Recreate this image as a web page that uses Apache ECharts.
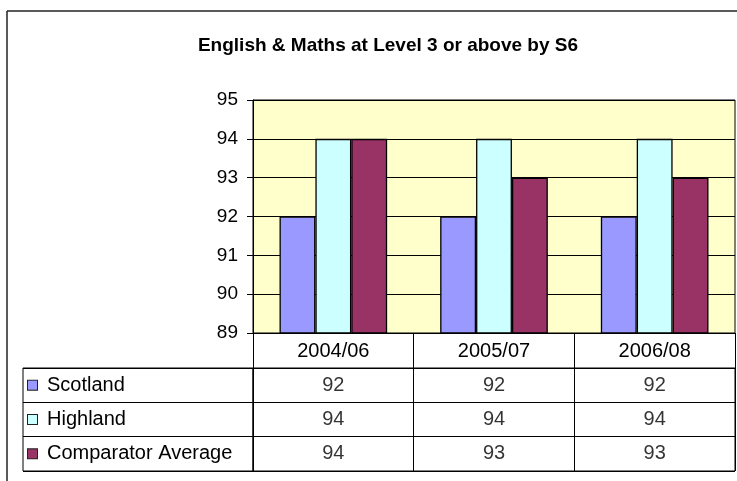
<!DOCTYPE html>
<html>
<head>
<meta charset="utf-8">
<title>English & Maths at Level 3 or above by S6</title>
<script src="https://cdn.jsdelivr.net/npm/echarts@6/dist/echarts.min.js"></script>
<style>
  html, body { margin: 0; padding: 0; background: #fff; }
  #chart { width: 737px; height: 481px; }
</style>
</head>
<body>
<div id="chart"></div>
<script>
// data
const categories = ['2004/06', '2005/07', '2006/08']
const scotland = [92, 92, 92]
const highland = [94, 94, 94]
const comparator = [94, 93, 93]
const yTicks = [89, 90, 91, 92, 93, 94, 95]

const rows = [
  { name: 'Scotland', values: scotland, color: '#9999FF' },
  { name: 'Highland', values: highland, color: '#CCFFFF' },
  { name: 'Comparator Average', values: comparator, color: '#993366' }
]

const font = '"Liberation Sans", Arial, sans-serif'
const black = '#000'

const chart = echarts.init(document.getElementById('chart'), null, { renderer: 'canvas' })

function barSeries(row) {
  return {
    name: row.name,
    type: 'bar',
    data: row.values,
    barGap: '0%',
    barCategoryGap: '33%',
    itemStyle: { color: row.color, borderColor: black, borderWidth: 1.3 },
    emphasis: { disabled: true }
  }
}

function cellSeries(row) {
  return {
    type: 'scatter',
    xAxisIndex: 1,
    yAxisIndex: 1,
    symbolSize: 1,
    itemStyle: { color: 'rgba(0,0,0,0)' },
    data: row.values.map((v, i) => [categories[i], row.name, v]),
    label: {
      show: true,
      position: 'inside',
      formatter: p => String(p.value[2]),
      color: black,
      fontSize: 20,
      fontFamily: font
    },
    silent: true
  }
}

const boxRich = {}
rows.forEach((row, i) => {
  boxRich['b' + i] = { width: 9, height: 9, backgroundColor: row.color, borderColor: '#222', borderWidth: 1 }
})
boxRich.t = { fontSize: 20, fontFamily: font, color: black, padding: [0, 0, 0, 10] }

chart.setOption({
  animation: false,
  textStyle: { fontFamily: font },
  title: {
    text: 'English & Maths at Level 3 or above by S6',
    left: 383,
    textAlign: 'center',
    top: 31,
    textStyle: { fontSize: 19, fontWeight: 'bold', color: black, fontFamily: font }
  },
  graphic: [
    { type: 'line', shape: { x1: 7, y1: 11, x2: 737, y2: 11 }, style: { stroke: '#222', lineWidth: 1.5 }, silent: true },
    { type: 'line', shape: { x1: 7, y1: 11, x2: 7, y2: 481 }, style: { stroke: '#222', lineWidth: 1.5 }, silent: true }
  ],
  grid: [
    { left: 253, top: 100, right: 2, bottom: 148, show: true, backgroundColor: '#FFFFCC', borderColor: black, borderWidth: 1 },
    { left: 253, top: 368, right: 2, bottom: 10, show: true, borderColor: black, borderWidth: 1 },
    { left: 23, top: 368, width: 230, bottom: 10, show: true, borderColor: black, borderWidth: 1 }
  ],
  xAxis: [
    {
      type: 'category',
      gridIndex: 0,
      data: categories,
      axisLine: { lineStyle: { color: black, width: 1 } },
      axisTick: { show: true, length: 35, interval: 0, lineStyle: { color: black } },
      axisLabel: { color: black, fontSize: 20, margin: 8, interval: 0 }
    },
    {
      type: 'category',
      gridIndex: 1,
      data: categories,
      axisLine: { show: false },
      axisTick: { show: false },
      axisLabel: { show: false },
      splitLine: { show: true, interval: 0, lineStyle: { color: black, width: 1 } }
    },
    {
      type: 'category',
      gridIndex: 2,
      data: [''],
      axisLine: { show: false },
      axisTick: { show: false },
      axisLabel: { show: false }
    }
  ],
  yAxis: [
    {
      type: 'value',
      gridIndex: 0,
      min: yTicks[0],
      max: yTicks[yTicks.length - 1],
      interval: 1,
      axisLine: { show: true, lineStyle: { color: black, width: 1 } },
      axisTick: { show: true, length: 6, lineStyle: { color: black } },
      axisLabel: { color: black, fontSize: 19, margin: 15 },
      splitLine: { show: true, lineStyle: { color: black, width: 1 } }
    },
    {
      type: 'category',
      gridIndex: 1,
      inverse: true,
      data: rows.map(r => r.name),
      axisLine: { show: false },
      axisTick: { show: false },
      axisLabel: { show: false },
      splitLine: { show: true, interval: 0, lineStyle: { color: black, width: 1 } }
    },
    {
      type: 'category',
      gridIndex: 2,
      inverse: true,
      data: rows.map(r => r.name),
      axisLine: { show: false },
      axisTick: { show: false },
      splitLine: { show: true, interval: 0, lineStyle: { color: black, width: 1 } },
      axisLabel: {
        inside: true,
        margin: 5,
        interval: 0,
        align: 'left',
        formatter: (v, i) => `{b${i}|}{t|${v}}`,
        rich: boxRich
      }
    }
  ],
  series: [
    ...rows.map(barSeries),
    ...rows.map(cellSeries)
  ]
})
</script>
</body>
</html>
